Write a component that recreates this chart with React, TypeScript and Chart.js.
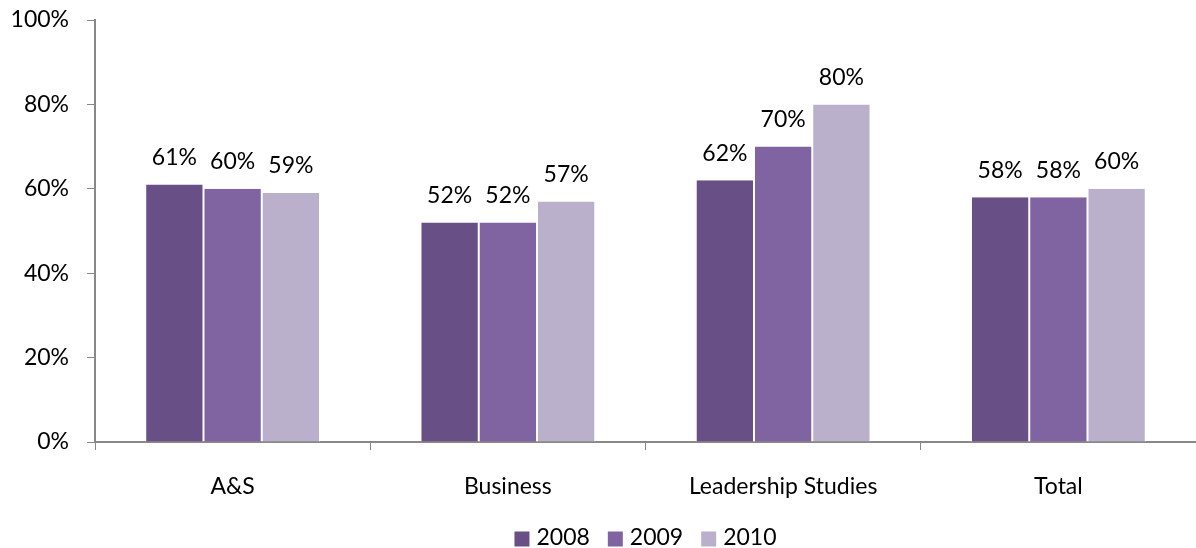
import React, { useEffect, useRef } from "react";
import { Chart, registerables } from "chart.js";

Chart.register(...registerables);

const categories = ["A&S", "Business", "Leadership Studies", "Total"];
const seriesNames = ["2008", "2009", "2010"];
const values2008 = [61, 52, 62, 58];
const values2009 = [60, 52, 70, 58];
const values2010 = [59, 57, 80, 60];
const colors = ["#684f86", "#8064a2", "#bab0cb"];
const yTicks = [0, 20, 40, 60, 80, 100];

const FONT = "Lato, 'Open Sans', sans-serif";
const FS = 23;

const labelPlugin = {
  id: "barLabels",
  afterDatasetsDraw(chart: any) {
    const ctx = chart.ctx;
    ctx.save();
    ctx.font = `${FS}px ${FONT}`;
    ctx.fillStyle = "#000";
    ctx.textAlign = "center";
    ctx.textBaseline = "middle";
    chart.data.datasets.forEach((ds: any, i: number) => {
      const meta = chart.getDatasetMeta(i);
      meta.data.forEach((bar: any, j: number) => {
        ctx.fillText(ds.data[j] + "%", bar.x, bar.y - 27);
      });
    });
    ctx.restore();
  },
};

const legendPlugin = {
  id: "customLegend",
  afterDraw(chart: any) {
    const ctx = chart.ctx;
    const area = chart.chartArea;
    ctx.save();
    ctx.font = `${FS}px ${FONT}`;
    ctx.textBaseline = "middle";
    ctx.textAlign = "left";
    const box = 15;
    const gapText = 7;
    const gapItem = 18;
    const widths = seriesNames.map((n) => box + gapText + ctx.measureText(n).width);
    const total = widths.reduce((a, b) => a + b, 0) + gapItem * (widths.length - 1);
    let x = (area.left + area.right) / 2 - total / 2;
    const cy = 538;
    seriesNames.forEach((n, i) => {
      ctx.fillStyle = colors[i];
      ctx.fillRect(x, cy - box / 2 + 1, box, box);
      ctx.fillStyle = "#000";
      ctx.fillText(n, x + box + gapText, cy);
      x += widths[i] + gapItem;
    });
    ctx.restore();
  },
};

export default function App() {
  const ref = useRef<HTMLCanvasElement>(null);
  useEffect(() => {
    document.body.style.margin = "0";
    const data = [values2008, values2009, values2010];
    const chart = new Chart(ref.current!, {
      type: "bar",
      data: {
        labels: categories,
        datasets: seriesNames.map((n, i) => ({
          label: n,
          data: data[i],
          backgroundColor: colors[i],
          borderColor: "#ffffff",
          borderWidth: { left: 1, right: 1, top: 0, bottom: 0 } as any,
          categoryPercentage: 0.635,
          barPercentage: 1,
        })),
      },
      options: {
        animation: false,
        responsive: false,
        maintainAspectRatio: false,
        layout: { padding: { top: 20, right: 0, left: 0, bottom: 0 } },
        plugins: {
          legend: { display: false },
          tooltip: { enabled: false },
        },
        scales: {
          x: {
            afterFit: (s: any) => {
              s.height = 106;
              s.paddingLeft = 0;
              s.paddingRight = 0;
            },
            grid: {
              offset: true,
              drawOnChartArea: false,
              tickLength: 8,
              color: "#888",
            },
            border: { color: "#888", width: 2 },
            ticks: { font: { family: FONT, size: FS }, color: "#000", padding: 23 },
          },
          y: {
            min: 0,
            max: 100,
            afterFit: (s: any) => {
              s.width = 95;
              s.paddingTop = 0;
              s.paddingBottom = 0;
            },
            afterBuildTicks: (s: any) => {
              s.ticks = yTicks.map((v) => ({ value: v }));
            },
            grid: { drawOnChartArea: false, tickLength: 8, color: "#888" },
            border: { color: "#888", width: 2 },
            ticks: {
              font: { family: FONT, size: FS },
              color: "#000",
              padding: 18,
              callback: (v: any) => v + "%",
            },
          },
        },
      },
      plugins: [labelPlugin, legendPlugin],
    });
    return () => chart.destroy();
  }, []);
  return <canvas ref={ref} width={1196} height={548} style={{ display: "block" }} />;
}
